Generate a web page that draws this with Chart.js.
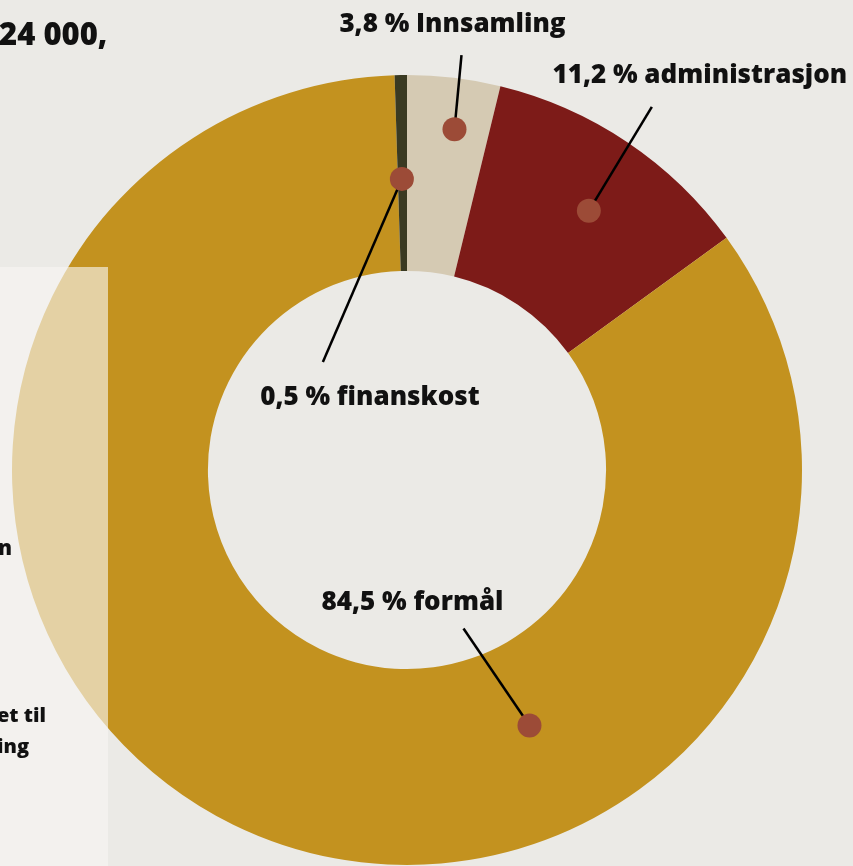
<!DOCTYPE html>
<html>
<head>
<meta charset="utf-8">
<script src="https://cdn.jsdelivr.net/npm/chart.js@4"></script>
<style>
  html, body { margin: 0; padding: 0; background: #ebeae6; }
  #wrap { position: relative; width: 853px; height: 866px; overflow: hidden; font-family: "Open Sans", sans-serif; }
  #chart { position: absolute; left: 0; top: 0; }
  #panel { position: absolute; left: 0; top: 267px; width: 108px; height: 599px; background: rgba(247, 246, 243, 0.63); }
  .frag { position: absolute; font-weight: 800; color: #111; white-space: nowrap; }
</style>
</head>
<body>
<div id="wrap">
  <canvas id="chart" width="853" height="866"></canvas>
  <div id="panel"></div>
  <div class="frag" style="left:-1px; top:12px; font-size:31px;">24 000,</div>
  <div class="frag" style="left:-2px; top:533px; font-size:21px;">n</div>
  <div class="frag" style="left:-3px; top:701px; font-size:20px;">et til</div>
  <div class="frag" style="left:-3px; top:732px; font-size:20px;">ing</div>
</div>
<script>
// ================= DATA =================
const categories = ["Innsamling", "administrasjon", "formål", "finanskost"];
const shares = [3.8, 11.2, 84.5, 0.5];
const labelTexts = ["3,8 % Innsamling", "11,2 % administrasjon", "84,5 % formål", "0,5 % finanskost"];
const colors = ["#d5cab3", "#7d1b18", "#c3921f", "#3a3a22"];

// callout layout: where the dot sits inside each slice, where the line ends, where the text sits
const dotAlong = [0.58, 0.53, 0.33, 0.44];
const dotDepth = [0.74, 0.60, 0.43, 0.47];
const lineEnd = [[7, -74], [63, -104], [-66, -97], [-79, 183]];
const textPos = [[-2, -105], [111, -135], [-117, -123], [-32, 219]];

// ================= CALLOUTS =================
const callouts = {
  id: "callouts",
  afterDatasetsDraw(chart) {
    const ctx = chart.ctx;
    const arcs = chart.getDatasetMeta(0).data;
    ctx.save();
    arcs.forEach((arc, i) => {
      const a = arc.startAngle + (arc.endAngle - arc.startAngle) * dotAlong[i];
      const r = arc.innerRadius + (arc.outerRadius - arc.innerRadius) * dotDepth[i];
      const x = arc.x + Math.cos(a) * r;
      const y = arc.y + Math.sin(a) * r;

      ctx.strokeStyle = "#000";
      ctx.lineWidth = 2.5;
      ctx.beginPath();
      ctx.moveTo(x, y);
      ctx.lineTo(x + lineEnd[i][0], y + lineEnd[i][1]);
      ctx.stroke();

      ctx.fillStyle = "#9c4b37";
      ctx.beginPath();
      ctx.arc(x, y, 12, 0, Math.PI * 2);
      ctx.fill();

      ctx.fillStyle = "#111";
      ctx.font = "800 26px 'Open Sans'";
      ctx.textAlign = "center";
      ctx.textBaseline = "middle";
      ctx.fillText(labelTexts[i], x + textPos[i][0], y + textPos[i][1]);
    });
    ctx.restore();
  }
};

new Chart(document.getElementById("chart"), {
  type: "doughnut",
  data: {
    labels: categories,
    datasets: [{
      data: shares,
      backgroundColor: colors,
      borderWidth: 0
    }]
  },
  options: {
    responsive: false,
    animation: false,
    cutout: "50.4%",
    rotation: 0,
    layout: { padding: { left: 12, right: 51, top: 75, bottom: 1 } },
    plugins: {
      legend: { display: false },
      tooltip: { enabled: false }
    }
  },
  plugins: [callouts]
});
</script>
</body>
</html>
